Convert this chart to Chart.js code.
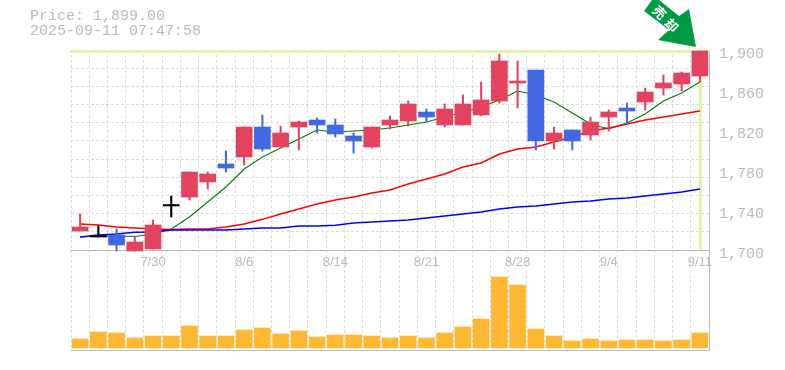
<!DOCTYPE html>
<html lang="ja">
<head>
  <meta charset="UTF-8">
  <title>Price chart</title>
  <script src="https://cdn.jsdelivr.net/npm/chart.js@4"></script>
  <style>
    body {
      margin: 0;
      background: #fff;
    }
    #wrap {
      position: relative;
      width: 785px;
      height: 370px;
      overflow: hidden;
    }
    #chart {
      position: absolute;
      left: 0;
      top: 0;
    }
    #price {
      position: absolute;
      left: 30px;
      top: 10px;
      font: 15px/14.5px "Liberation Mono", monospace;
      color: #bbb;
      white-space: pre;
    }
    #arrow {
      position: absolute;
      left: 0;
      top: 0;
    }
  </style>
</head>
<body>
  <div id="wrap">
    <canvas id="chart" width="785" height="370"></canvas>
    <div id="price">Price: 1,899.00
2025-09-11 07:47:58</div>
    <svg id="arrow" width="785" height="60">
      <polygon points="652,0 659,0 679,16 689,9 696,47 658,40 669,30 644,11" fill="#009944"/>
      <text transform="translate(660,12) rotate(45)" font-family="Noto Sans CJK JP" font-weight="700" font-size="13" fill="#fff" text-anchor="middle" dominant-baseline="central">売</text>
      <text transform="translate(672,25) rotate(45)" font-family="Noto Sans CJK JP" font-weight="700" font-size="13" fill="#fff" text-anchor="middle" dominant-baseline="central">却</text>
    </svg>
  </div>

  <script>
    const dates = ['7/24','7/25','7/28','7/29','7/30','7/31','8/1','8/4','8/5','8/6','8/7','8/8','8/12','8/13','8/14','8/15','8/18','8/19','8/20','8/21','8/22','8/25','8/26','8/27','8/28','8/29','9/1','9/2','9/3','9/4','9/5','9/8','9/9','9/10','9/11'];
    const dateLabels = ['7/30','8/6','8/14','8/21','8/28','9/4','9/11'];
    const priceLabels = [1700,1740,1780,1820,1860,1900];

    const opens  = [1719,1713,1715,1699,1701,1744,1753,1768,1786,1793,1823,1803,1823,1830,1825,1814,1803,1825,1829,1838,1825,1825,1835,1849,1867,1880,1809,1820,1815,1833,1842,1848,1862,1866,1874];
    const closes = [1723,1713,1705,1708,1725,1744,1778,1776,1782,1823,1801,1817,1828,1825,1816,1809,1823,1830,1846,1833,1841,1846,1850,1889,1869,1809,1817,1809,1828,1838,1839,1858,1867,1877,1899];
    const highs  = [1736,1724,1721,1714,1730,1754,1778,1778,1799,1823,1835,1824,1829,1832,1831,1817,1823,1834,1849,1841,1846,1855,1868,1896,1889,1880,1823,1820,1833,1840,1847,1862,1875,1878,1899];
    const lows   = [1719,1713,1699,1699,1701,1733,1750,1761,1778,1785,1799,1803,1800,1817,1813,1797,1802,1821,1824,1828,1823,1825,1834,1847,1842,1800,1801,1800,1810,1819,1826,1840,1855,1859,1868];

    const maShort = [1713,1714,1714,1713.5,1716,1721,1733,1748,1763,1781,1793,1802,1811,1820,1818,1819,1820,1822,1825,1828,1833,1838,1843,1850,1859,1855,1848,1837,1826,1821,1827,1836,1849,1857,1868];
    const maMid   = [1726,1725,1723,1722,1721,1720.5,1721,1721,1723,1726,1730.7,1736,1741,1746,1750,1753,1757,1760,1766,1771,1776,1783,1787,1796,1801,1803,1808,1813,1819,1822,1826,1830,1833,1836,1839];
    const maLong  = [1713,1715,1716,1717.7,1718,1720,1720,1720,1720,1721,1722,1722,1724,1724,1724.7,1727,1728,1729,1730,1732,1734,1736,1738,1741,1743,1744,1746,1748,1749,1751,1752,1754,1756,1758,1761];

    const volumes = [9,16,15,10,12,12,22,12,12,18,20,14,17,11,13,13,12,10,12,10,15,21,29,71,63,19,12,7,9,7,8,8,7,8,15];

    const lastPrice = 1899.00;

    const RED = '#e2445f';
    const BLUE = '#4169e1';
    const LIME = '#e0f5a8';
    const FRAME = '#bbb';

    function candleColor(i) {
      if (opens[i] === closes[i]) return '#000';
      return closes[i] > opens[i] ? RED : BLUE;
    }

    const candleColors = dates.map((d, i) => candleColor(i));

    // Линии цены и рамка панелей
    const framePlugin = {
      id: 'frameLines',
      beforeDatasetsDraw(chart) {
        const { ctx, chartArea, scales } = chart;
        const priceY = Math.round(scales.y.getPixelForValue(lastPrice)) + 0.5;
        const lastX = Math.round(scales.x.getPixelForValue(dates.length - 1)) + 0.5;
        const axisY = Math.round(scales.y.getPixelForValue(1700)) + 0.5;
        ctx.save();
        ctx.strokeStyle = LIME;
        ctx.lineWidth = 3;
        ctx.beginPath();
        ctx.moveTo(chartArea.left - 1, priceY);
        ctx.lineTo(chartArea.right + 1, priceY);
        ctx.moveTo(lastX, priceY);
        ctx.lineTo(lastX, axisY);
        ctx.stroke();
        ctx.strokeStyle = FRAME;
        ctx.lineWidth = 1;
        ctx.beginPath();
        ctx.moveTo(chartArea.left - 1, axisY);
        ctx.lineTo(chartArea.right + 1, axisY);
        ctx.stroke();
        ctx.restore();
      }
    };

    function lineSet(data, color, width) {
      return {
        type: 'line',
        data: data,
        yAxisID: 'y',
        borderColor: color,
        borderWidth: width,
        pointRadius: 0,
        tension: 0,
        order: 5
      };
    }

    new Chart(document.getElementById('chart'), {
      data: {
        labels: dates,
        datasets: [
          lineSet(maLong, '#0000ff', 1.4),
          lineSet(maMid, '#ff0000', 1.4),
          lineSet(maShort, '#007f00', 1.1),
          {
            type: 'bar',
            data: highs.map((h, i) => [lows[i], h]),
            yAxisID: 'y',
            backgroundColor: candleColors,
            barThickness: 1.4,
            order: 2
          },
          {
            type: 'bar',
            data: opens.map((o, i) => [o, closes[i]]),
            yAxisID: 'y',
            backgroundColor: candleColors,
            barThickness: 16,
            minBarLength: 1.5,
            order: 1
          },
          {
            type: 'bar',
            data: volumes,
            yAxisID: 'yVol',
            backgroundColor: '#ffb833',
            barThickness: 16,
            order: 3
          }
        ]
      },
      options: {
        responsive: false,
        animation: false,
        layout: { padding: { left: 71, top: 50, bottom: 20 } },
        datasets: { bar: { grouped: false } },
        plugins: {
          legend: { display: false },
          tooltip: { enabled: false },
          title: { display: false }
        },
        scales: {
          x: {
            offset: true,
            afterFit(scale) {
              scale.height = 0;
              scale.paddingLeft = 0;
              scale.paddingRight = 0;
            },
            grid: {
              offset: true,
              drawTicks: false,
              color: '#ddd',
              lineWidth: 1
            },
            border: { dash: [3, 2], color: FRAME, width: 1 },
            ticks: {
              autoSkip: false,
              maxRotation: 0,
              mirror: true, // без этого подписи обрезаются по высоте оси
              padding: 80,
              color: '#bbb',
              font: { family: 'Liberation Sans', size: 13 },
              callback(value) {
                const label = this.getLabelForValue(value);
                return dateLabels.includes(label) ? label : '';
              }
            }
          },
          y: {
            position: 'right',
            min: 1600,
            max: 1900,
            afterFit(scale) { scale.width = 76; },
            afterBuildTicks(scale) {
              scale.ticks = priceLabels.map(v => ({ value: v }));
            },
            grid: { display: false, drawTicks: false },
            border: { color: FRAME, width: 1 },
            ticks: {
              padding: 10,
              labelOffset: 4,
              color: '#bbb',
              font: { family: 'Liberation Mono', size: 15 },
              callback: v => v.toLocaleString('en-US')
            }
          },
          // горизонтальная сетка только для верхней панели, 11 делений
          yGrid: {
            position: 'right',
            min: 0,
            max: 300,
            afterFit(scale) { scale.width = 0; },
            afterBuildTicks(scale) {
              const out = [];
              for (let k = 0; k <= 11; k++) out.push({ value: 100 + k * 200 / 11 });
              scale.ticks = out;
            },
            grid: { color: '#ddd', lineWidth: 1, drawTicks: false },
            border: { display: false, dash: [3, 2] },
            ticks: { display: false }
          },
          yVol: {
            display: false,
            min: -2,
            max: 298
          }
        }
      },
      plugins: [framePlugin]
    });
  </script>
</body>
</html>
